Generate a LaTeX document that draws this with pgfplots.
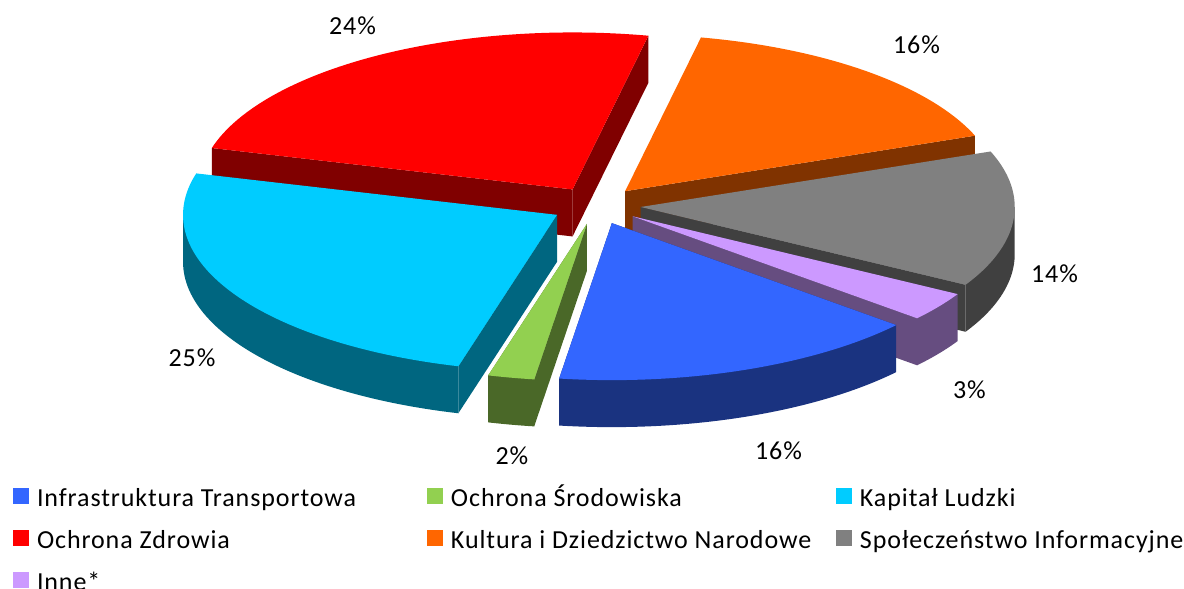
\documentclass[border=0pt]{standalone}
\usepackage{fontspec}
\setmainfont[LetterSpace=3.5]{Carlito}
\usepackage{pgfplots}
\usepackage{pgfplotstable}
\pgfplotsset{compat=1.18}

\definecolor{cBlue}{HTML}{3366FF}\definecolor{wBlue}{HTML}{1A3380}
\definecolor{cGreen}{HTML}{92D050}\definecolor{wGreen}{HTML}{4A6828}
\definecolor{cCyan}{HTML}{00CCFF}\definecolor{wCyan}{HTML}{006680}
\definecolor{cRed}{HTML}{FF0000}\definecolor{wRed}{HTML}{800000}
\definecolor{cOrange}{HTML}{FF6600}\definecolor{wOrange}{HTML}{803300}
\definecolor{cGray}{HTML}{808080}\definecolor{wGray}{HTML}{404040}
\definecolor{cPurple}{HTML}{CC99FF}\definecolor{wPurple}{HTML}{664D80}

% share of each category (%), in series order
\pgfplotstableread{
pct
16
2
25
24
16
14
3
}\piedata

% pie geometry (pixels of the picture)
\def\pcx{596}\def\pcy{205.5}\def\prx{374}\def\pry{157}\def\ph{47}\def\pex{0.12}
\def\startangle{40.5}

\xdef\cum{0}
\foreach \i in {0,...,6}{%
  \pgfplotstablegetelem{\i}{pct}\of\piedata
  \pgfmathsetmacro\tA{\startangle+3.6*\cum}%
  \pgfmathsetmacro\tB{\startangle+3.6*(\cum+\pgfplotsretval)}%
  \expandafter\xdef\csname sliceA\i\endcsname{\tA}%
  \expandafter\xdef\csname sliceB\i\endcsname{\tB}%
  \pgfmathsetmacro\newcum{\cum+\pgfplotsretval}%
  \xdef\cum{\newcum}%
}

\newcommand\frontwall[2]{%
  \pgfmathsetmacro\fa{max(\tA,#1)}%
  \pgfmathsetmacro\fb{min(\tB,#1+180)}%
  \pgfmathtruncatemacro\vis{\fb-\fa>0.01}%
  \ifnum\vis=1 %
    \pgfmathsetmacro\xa{\ax+\prx*cos(\fa)}%
    \pgfmathsetmacro\ya{\ay+\pry*sin(\fa)}%
    \pgfmathsetmacro\xb{\ax+\prx*cos(\fb)}%
    \pgfmathsetmacro\yb{\ay+\pry*sin(\fb)}%
    \edef\tmp{\noexpand\addplot[forget plot,fill=#2,draw=none,domain=\fa:\fb,samples=60] ({\ax+\prx*cos(x)},{\ayh+\pry*sin(x)}) -- (axis cs:\xb,\yb) -- (axis cs:\ax,\ay) -- (axis cs:\xa,\ya) -- cycle;}\tmp
  \fi
}

\newcommand\drawslice[3]{%
  \edef\tA{\csname sliceA#1\endcsname}%
  \edef\tB{\csname sliceB#1\endcsname}%
  \pgfmathsetmacro\tM{(\tA+\tB)/2}%
  \pgfmathsetmacro\ax{\pcx+\pex*\prx*cos(\tM)}%
  \pgfmathsetmacro\ay{\pcy+\pex*\pry*sin(\tM)}%
  \pgfmathsetmacro\ayh{\ay+\ph}%
  \pgfmathsetmacro\xA{\ax+\prx*cos(\tA)}%
  \pgfmathsetmacro\yA{\ay+\pry*sin(\tA)}%
  \pgfmathsetmacro\yAh{\yA+\ph}%
  \pgfmathsetmacro\xB{\ax+\prx*cos(\tB)}%
  \pgfmathsetmacro\yB{\ay+\pry*sin(\tB)}%
  \pgfmathsetmacro\yBh{\yB+\ph}%
  \pgfmathtruncatemacro\vis{cos(\tA)<0}%
  \ifnum\vis=1 %
    \edef\tmp{\noexpand\addplot[forget plot,fill=#3,draw=none] coordinates {(\ax,\ay) (\xA,\yA) (\xA,\yAh) (\ax,\ayh)};}\tmp
  \fi
  \pgfmathtruncatemacro\vis{cos(\tB)>0}%
  \ifnum\vis=1 %
    \edef\tmp{\noexpand\addplot[forget plot,fill=#3,draw=none] coordinates {(\ax,\ay) (\xB,\yB) (\xB,\yBh) (\ax,\ayh)};}\tmp
  \fi
  \frontwall{0}{#3}%
  \frontwall{360}{#3}%
  \edef\tmp{\noexpand\addplot[forget plot,fill=#2,draw=none,domain=\tA:\tB,samples=80] ({\ax+\prx*cos(x)},{\ay+\pry*sin(x)}) -- (axis cs:\ax,\ay) -- cycle;}\tmp
}

\newcommand\lblfont{\fontsize{26}{30}\selectfont}
\newcommand\lgs{\rule[-6pt]{0pt}{28pt}}

\begin{document}
\begin{tikzpicture}[x=1pt,y=1pt]
\useasboundingbox (0,0) rectangle (1184,589);
\clip (0,0) rectangle (1184,589);
\begin{axis}[
  at={(0,0)}, anchor=south west,
  width=1184pt, height=589pt, scale only axis,
  xmin=0, xmax=1184, ymin=0, ymax=589, y dir=reverse,
  hide axis, clip=false,
  legend columns=3,
  legend cell align=left,
  legend image code/.code={\fill[#1,draw=none] (0pt,-8pt) rectangle (16pt,8pt);},
  legend style={draw=none, fill=none, at={(axis cs:13,484)}, anchor=north west,
    inner sep=0pt, outer sep=0pt, nodes={inner sep=0pt, anchor=west},
    row sep=18.5pt, font=\lblfont,
    /tikz/every odd column/.style={column sep=8pt},
    /tikz/every even column/.style={column sep=0pt}},
]
\drawslice{3}{cRed}{wRed}
\drawslice{4}{cOrange}{wOrange}
\drawslice{5}{cGray}{wGray}
\drawslice{2}{cCyan}{wCyan}
\drawslice{6}{cPurple}{wPurple}
\drawslice{1}{cGreen}{wGreen}
\drawslice{0}{cBlue}{wBlue}

\node[font=\lblfont] at (axis cs:352.5,25.5) {24\%};
\node[font=\lblfont] at (axis cs:916.5,44.5) {16\%};
\node[font=\lblfont] at (axis cs:1054.5,274) {14\%};
\node[font=\lblfont] at (axis cs:969.5,389.5) {3\%};
\node[font=\lblfont] at (axis cs:778.5,451) {16\%};
\node[font=\lblfont] at (axis cs:512,456) {2\%};
\node[font=\lblfont] at (axis cs:192,357.5) {25\%};

\addlegendimage{fill=cBlue}
\addlegendentry{\makebox[390pt][l]{\lgs Infrastruktura Transportowa}}
\addlegendimage{fill=cGreen}
\addlegendentry{\makebox[385pt][l]{\lgs Ochrona Środowiska}}
\addlegendimage{fill=cCyan}
\addlegendentry{\lgs Kapitał Ludzki}
\addlegendimage{fill=cRed}
\addlegendentry{\makebox[390pt][l]{\lgs Ochrona Zdrowia}}
\addlegendimage{fill=cOrange}
\addlegendentry{\makebox[385pt][l]{\lgs Kultura i Dziedzictwo Narodowe}}
\addlegendimage{fill=cGray}
\addlegendentry{\lgs Społeczeństwo Informacyjne}
\addlegendimage{fill=cPurple}
\addlegendentry{\makebox[390pt][l]{\lgs Inne*}}
\end{axis}
\end{tikzpicture}
\end{document}
